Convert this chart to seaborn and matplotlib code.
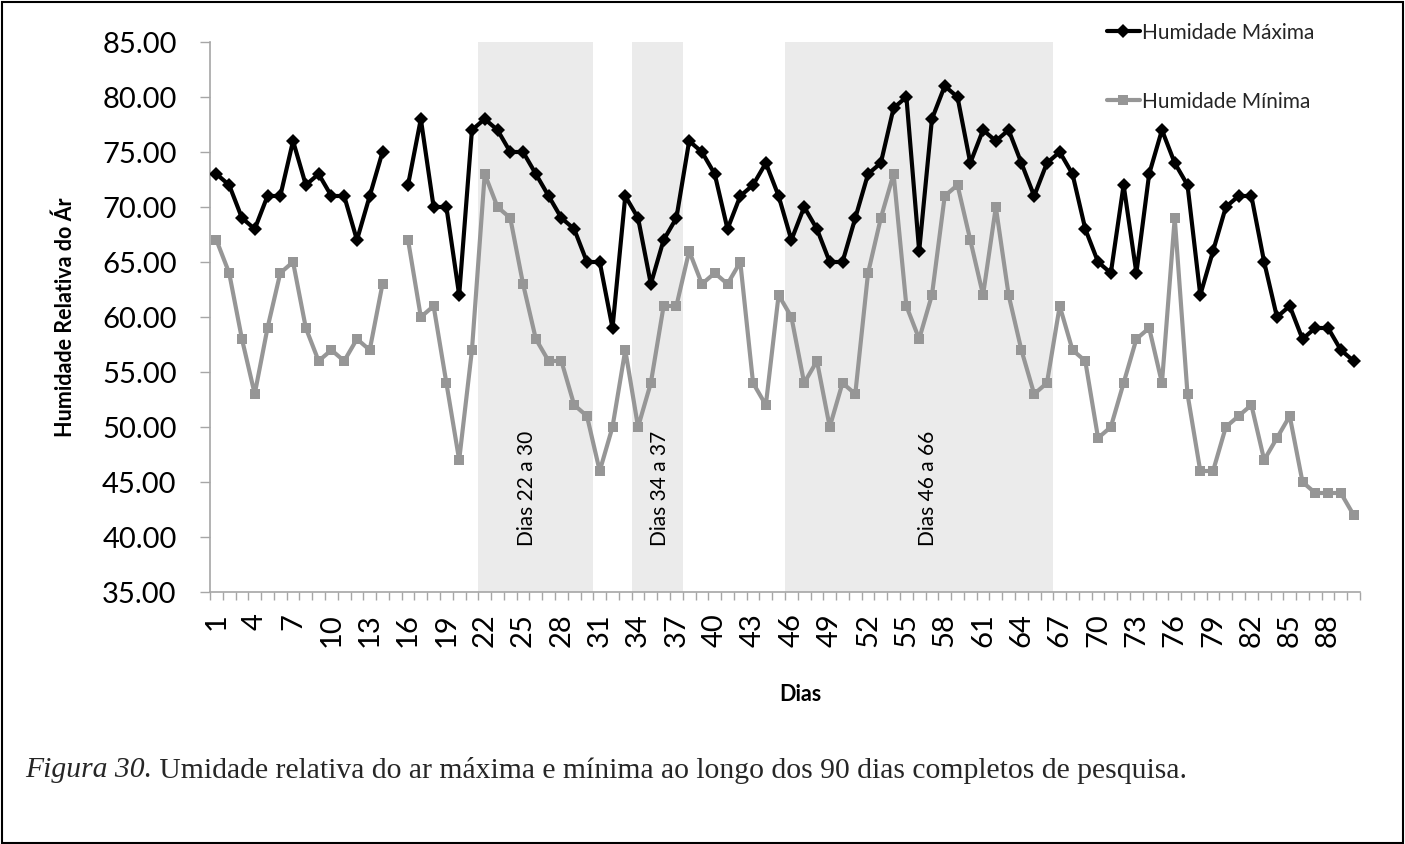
import numpy as np
import pandas as pd
import matplotlib
matplotlib.use("Agg")
import matplotlib.pyplot as plt
import seaborn as sns
from matplotlib.patches import Rectangle
from matplotlib.lines import Line2D

# ---- data ---------------------------------------------------------------
dias = list(range(1, 91))
humidade_maxima = [
    73, 72, 69, 68, 71, 71, 76, 72, 73, 71,
    71, 67, 71, 75, np.nan, 72, 78, 70, 70, 62,
    77, 78, 77, 75, 75, 73, 71, 69, 68, 65,
    65, 59, 71, 69, 63, 67, 69, 76, 75, 73,
    68, 71, 72, 74, 71, 67, 70, 68, 65, 65,
    69, 73, 74, 79, 80, 66, 78, 81, 80, 74,
    77, 76, 77, 74, 71, 74, 75, 73, 68, 65,
    64, 72, 64, 73, 77, 74, 72, 62, 66, 70,
    71, 71, 65, 60, 61, 58, 59, 59, 57, 56,
]
humidade_minima = [
    67, 64, 58, 53, 59, 64, 65, 59, 56, 57,
    56, 58, 57, 63, np.nan, 67, 60, 61, 54, 47,
    57, 73, 70, 69, 63, 58, 56, 56, 52, 51,
    46, 50, 57, 50, 54, 61, 61, 66, 63, 64,
    63, 65, 54, 52, 62, 60, 54, 56, 50, 54,
    53, 64, 69, 73, 61, 58, 62, 71, 72, 67,
    62, 70, 62, 57, 53, 54, 61, 57, 56, 49,
    50, 54, 58, 59, 54, 69, 53, 46, 46, 50,
    51, 52, 47, 49, 51, 45, 44, 44, 44, 42,
]
series = ["Humidade Máxima", "Humidade Mínima"]
periodos_inicio = [22, 34, 46]
periodos_fim = [30, 37, 66]
periodos_texto = ["Dias 22 a 30", "Dias 34 a 37", "Dias 46 a 66"]
y_ticks = [35, 40, 45, 50, 55, 60, 65, 70, 75, 80, 85]
x_ticks = list(range(1, 90, 3))

# ---- style --------------------------------------------------------------
sns.set_theme(style="ticks")
plt.rcParams["font.family"] = ["Lato", "DejaVu Sans"]
AXIS_GREY = "#A6A6A6"
cores = {series[0]: "#000000", series[1]: "#969696"}
marcadores = {series[0]: "D", series[1]: "s"}
TICK_SIZE = 21

W, H = 1405, 844
fig = plt.figure(figsize=(W / 100, H / 100), dpi=100)
fig.patch.set_facecolor("white")

# plot area in pixel units converted to figure fractions
left_px, right_px, top_px, bottom_px = 210, 1360, 42, 592
ax = fig.add_axes([left_px / W, 1 - bottom_px / H,
                   (right_px - left_px) / W, (bottom_px - top_px) / H])

# long-form table; a missing day starts a new line segment
df = pd.DataFrame({"Dia": dias, series[0]: humidade_maxima, series[1]: humidade_minima})
long = df.melt(id_vars="Dia", value_vars=series, var_name="Série", value_name="Humidade")
long["troço"] = long.groupby("Série")["Humidade"].transform(lambda s: s.isna().cumsum())
long = long.dropna(subset=["Humidade"])

# shaded periods
for a, b in zip(periodos_inicio, periodos_fim):
    ax.axvspan(a - 0.5, b + 0.5, color="#EBEBEB", lw=0, zorder=0)

sns.lineplot(
    data=long, x="Dia", y="Humidade", hue="Série", style="Série",
    units="troço", estimator=None, sort=True,
    palette=cores, markers=marcadores, dashes=False,
    linewidth=3, markersize=7.5, markeredgewidth=0,
    legend=False, ax=ax, zorder=3,
)

# period labels, written vertically inside each shaded band
label_x = [25.3, 35.7, 56.7]
for x, txt in zip(label_x, periodos_texto):
    ax.text(x, 44.4, txt, rotation=90, ha="center", va="center",
            fontsize=15, color="#000000", zorder=2)

# axes
ax.set_xlim(0.5, 90.5)
ax.set_ylim(35, 85)
ax.set_xticks(x_ticks)
ax.set_xticklabels([str(d) for d in x_ticks])
ax.set_xticks(np.arange(0.5, 91, 1), minor=True)
ax.set_yticks(y_ticks)
ax.set_yticklabels([f"{v:.2f}" for v in y_ticks])

ax.tick_params(axis="x", which="major", length=0, pad=15, labelrotation=90,
               labelsize=TICK_SIZE, labelcolor="black")
ax.tick_params(axis="x", which="minor", length=6, width=1, color=AXIS_GREY,
               direction="out")
ax.tick_params(axis="y", which="major", length=7, width=1, color=AXIS_GREY,
               direction="out", pad=17, labelsize=TICK_SIZE, labelcolor="black")

for side in ("top", "right"):
    ax.spines[side].set_visible(False)
for side in ("left", "bottom"):
    ax.spines[side].set_color(AXIS_GREY)
    ax.spines[side].set_linewidth(1.2)
ax.set_facecolor("white")
ax.grid(False)

ax.set_ylabel("Humidade Relativa do Ár", fontsize=15.5, fontweight="bold", color="black")
ax.yaxis.set_label_coords((76 - left_px) / (right_px - left_px), 0.5)
ax.set_xlabel("Dias", fontsize=15.5, fontweight="bold", color="black")
ax.xaxis.set_label_coords((800 - left_px) / (right_px - left_px),
                          -(684 - bottom_px) / (bottom_px - top_px))

# legend
handles = [
    Line2D([], [], color=cores[s], lw=3, marker=marcadores[s], markersize=7.5,
           markeredgewidth=0)
    for s in series
]
fig.legend(handles, series, loc="upper left",
           bbox_to_anchor=(1088 / W, 1 - 4 / H), frameon=False,
           fontsize=15, handlelength=1.6, handletextpad=0.1, labelspacing=2.35)

# caption below the chart
fig.canvas.draw()
renderer = fig.canvas.get_renderer()
cap_y = 1 - 770 / H
CAP_SIZE = 21.3
t1 = fig.text(25 / W, cap_y, "Figura 30.", fontsize=CAP_SIZE, style="italic",
              family="Liberation Serif", va="center", ha="left")
bb = t1.get_window_extent(renderer)
fig.text(bb.x1 / W, cap_y,
         " Umidade relativa do ar máxima e mínima ao longo dos 90 dias completos de pesquisa.",
         fontsize=CAP_SIZE, family="Liberation Serif", va="center", ha="left")

# outer frame
fig.patches.append(Rectangle((2 / W, 1 / H), (W - 4) / W, (H - 3) / H,
                             transform=fig.transFigure, fill=False,
                             edgecolor="black", lw=1.5))

fig.savefig("out.png", dpi=100)
